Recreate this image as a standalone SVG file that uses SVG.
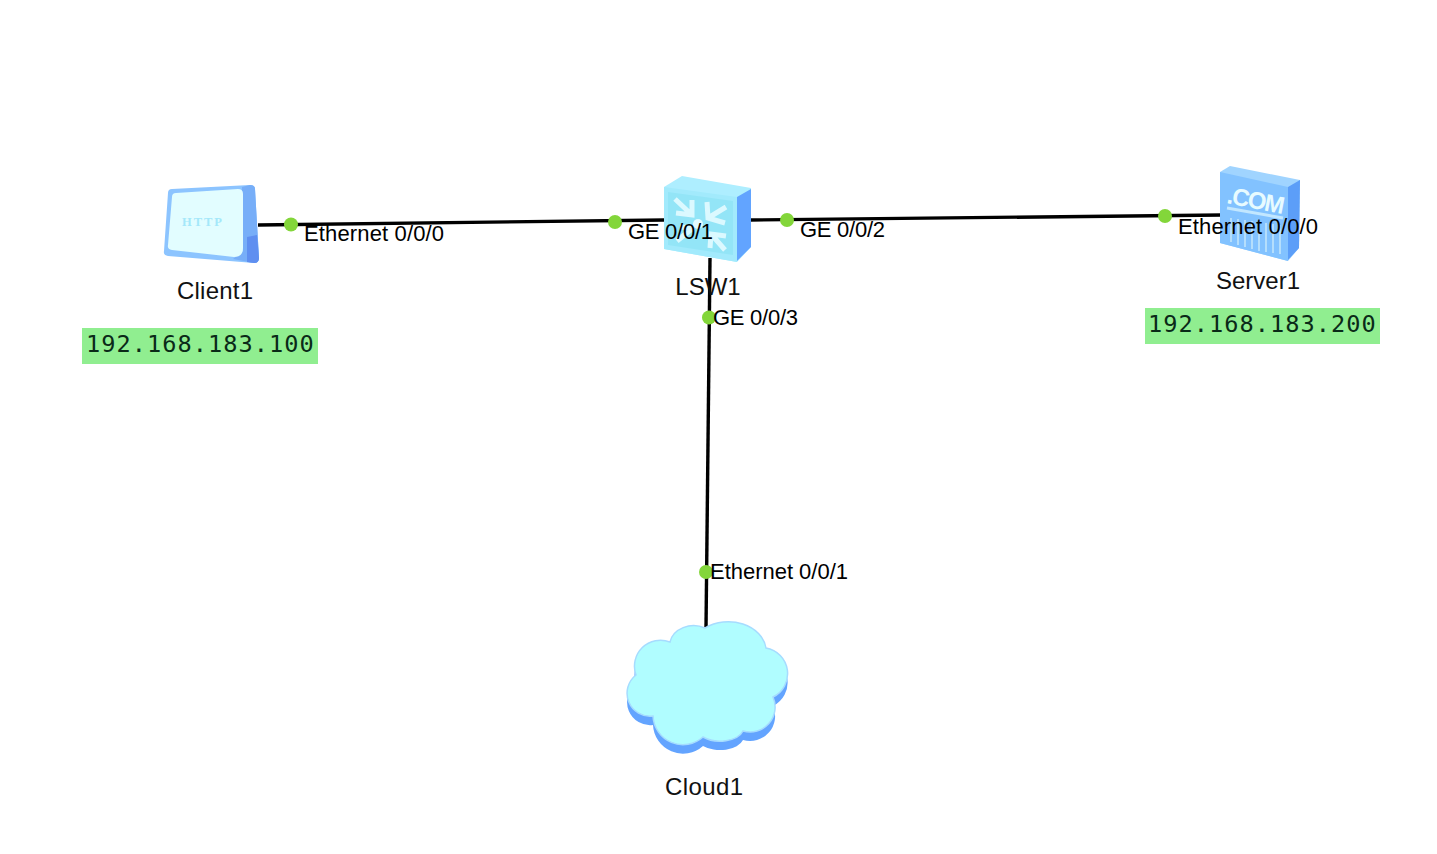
<svg xmlns="http://www.w3.org/2000/svg" width="1437" height="854" viewBox="0 0 1437 854">
<style>
.link{stroke:#000;stroke-width:3.4;fill:none}
.dot{fill:#83d63a}
.port{font-family:"Liberation Sans",Arial,sans-serif;font-size:22px;fill:#000}
.name{font-family:"Liberation Sans",Arial,sans-serif;font-size:24px;fill:#111;text-anchor:middle}
.ipbox{fill:#90ee90}
.ip{font-family:"DejaVu Sans Mono","Liberation Mono",monospace;font-size:23.6px;fill:#0a2a18;letter-spacing:1.05px}
</style>
<defs>
<path id="cloudShape" d="M705 628A38 30 0 0 1 766 648A26 26 0 0 1 773 697A25 25 0 0 1 743 731A24 14 0 0 1 703 737A30 30 0 0 1 653 716A23 23 0 0 1 636 675A26 26 0 0 1 670 642A24 20 0 0 1 705 628Z"/>
</defs>
<rect width="1437" height="854" fill="#fff"/>
<g id="connectors">
<path class="link" d="M258 225L664 220"/>
<path class="link" d="M750 220L1222 215"/>
<path class="link" d="M710 258L706 628"/>
</g>
<g id="Client1">
<path d="M172 189L250 185Q255 185 255 189L259 258Q259 263 254 263L168 256Q163 255 164 251L168 193Q168 189 172 189Z" fill="#8cc4ff"/>
<path d="M242 187L250 185Q255 185 255 189L259 258Q259 263 254 263L233 259L243 251Z" fill="#77aef8"/>
<path d="M247 237L257 235L259 258Q259 263 254 263L247 262Z" fill="#5f8ff0"/>
<path d="M176 193L238 189Q243 189 243 194L243 248Q243 257 234 257L172 250Q167 249 168 245L172 197Q172 193 176 193Z" fill="#e2fdff"/>
<text x="182" y="226" font-family="Liberation Serif,serif" font-size="12.5" font-weight="700" fill="#a4e8fa" textLength="40">HTTP</text>
<text class="name" x="215" y="299" textLength="76">Client1</text>
<rect class="ipbox" x="82" y="328" width="236" height="36"/>
<text class="ip" x="86" y="352">192.168.183.100</text>
</g>
<g id="LSW1">
<path d="M664 187L682 176L751 188L751 247L737 262L664 249Z" fill="#aeeeff"/>
<path d="M737 197L751 189L751 247L737 261Z" fill="#62a4ff"/>
<path d="M664 187L737 197L737 262L664 249Z" fill="#a2eafc"/>
<path d="M668 192L733 201L733 255L668 245Z" fill="#93e5f7"/>
<g stroke="#e3fbff" stroke-width="5" fill="none" stroke-opacity=".9">
<path d="M675 199L692 215M676 213L692 215L692 200"/>
<path d="M726 207L708 218M707 202L708 218L725 223"/>
<path d="M677 241L693 228M680 227L693 228"/>
<path d="M725 250L711 234M710 248L711 234L726 236"/>
</g>
<circle cx="698" cy="224" r="5" fill="#e3fbff"/>
<text class="name" x="708" y="295">LSW1</text>
</g>
<g id="Server1">
<path d="M1220 172L1230 166L1300 180L1299 248L1288 261L1220 243Z" fill="#a0d4ff"/>
<path d="M1288 187L1300 180L1299 248L1288 260Z" fill="#5c9ef8"/>
<path d="M1220 172L1288 187L1288 261L1220 243Z" fill="#82c2ff"/>
<text x="1226" y="203" font-family="Liberation Sans,sans-serif" font-size="24" font-weight="700" fill="#e7fbff" transform="rotate(11 1226 203)" textLength="58">.COM</text>
<path d="M1227 208L1283 218" stroke="#c2e7ff" stroke-width="3" fill="none"/>
<path d="M1231 218V242M1238 219V245M1245 220V247M1252 221V249M1259 222V251M1266 223V252M1273 224V253M1280 225V254" stroke="#b4defc" stroke-width="2" fill="none"/>
<text class="name" x="1258" y="289">Server1</text>
<rect class="ipbox" x="1145" y="308" width="235" height="36"/>
<text class="ip" x="1148" y="332">192.168.183.200</text>
</g>
<g id="Cloud1">
<use href="#cloudShape" y="9" fill="#63a4ff"/>
<use href="#cloudShape" fill="#b0fdff" stroke="#a6dcff" stroke-width="1.5"/>
<text class="name" x="704" y="795" textLength="78">Cloud1</text>
</g>
<g id="ports">
<circle class="dot" cx="291" cy="224.500" r="7"/>
<circle class="dot" cx="615" cy="222" r="7"/>
<circle class="dot" cx="787" cy="220" r="7"/>
<circle class="dot" cx="1165" cy="216" r="7"/>
<circle class="dot" cx="709" cy="317.500" r="7"/>
<circle class="dot" cx="706" cy="572" r="7"/>
<text class="port" x="304" y="241" textLength="140">Ethernet 0/0/0</text>
<text class="port" x="628" y="239" textLength="85">GE 0/0/1</text>
<text class="port" x="800" y="237" textLength="85">GE 0/0/2</text>
<text class="port" x="1178" y="234" textLength="140">Ethernet 0/0/0</text>
<text class="port" x="713" y="325" textLength="85">GE 0/0/3</text>
<text class="port" x="710" y="579" textLength="138">Ethernet 0/0/1</text>
</g>
</svg>
